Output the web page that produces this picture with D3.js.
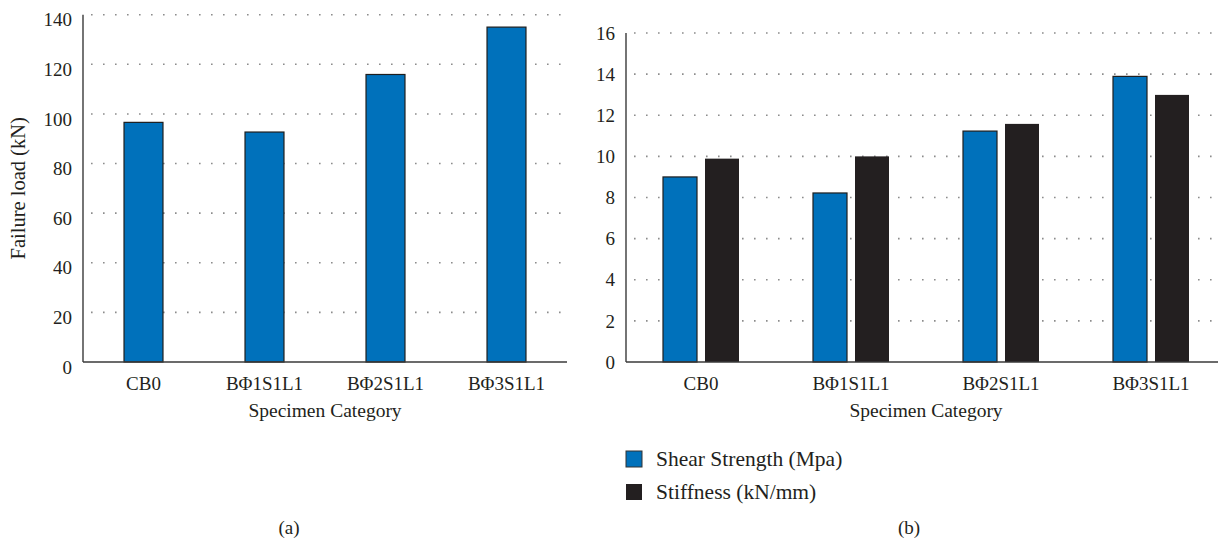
<!DOCTYPE html>
<html>
<head>
<meta charset="utf-8">
<script src="https://cdn.jsdelivr.net/npm/d3@7/dist/d3.min.js"></script>
<style>
  html, body { margin: 0; padding: 0; background: #fff; }
  svg text { font-family: 'Liberation Serif', 'Times New Roman', Times, 'DejaVu Serif', serif; fill: #231f20; }
</style>
</head>
<body>
<svg id="chart" width="1218" height="543"></svg>
<script>
// Specimen categories shared by both panels
const categories = ["CB0", "BΦ1S1L1", "BΦ2S1L1", "BΦ3S1L1"];
// Panel (a): failure load, kN
const failureLoad = [96.6, 92.7, 115.9, 135.0];
// Panel (b): shear strength (MPa) and stiffness (kN/mm)
const shearStrength = [9.0, 8.22, 11.23, 13.89];
const stiffness = [9.89, 10.0, 11.58, 12.99];
// Tick values
const loadTicks = [0, 20, 40, 60, 80, 100, 120, 140];
const bTicks = [0, 2, 4, 6, 8, 10, 12, 14, 16];

const seriesNames = ["Shear Strength (Mpa)", "Stiffness (kN/mm)"];
const seriesColors = ["#0071bb", "#231f20"];

const FONT = "'Liberation Serif', 'Times New Roman', Times, 'DejaVu Serif', serif";
const svg = d3.select("#chart");
const axisColor = "#3a3a3a";
const gridColor = "#8c8c8c";

function drawGrid(g, y, ticks, x0, x1) {
  g.selectAll("line.grid").data(ticks.filter(t => t !== 0)).join("line")
    .attr("class", "grid")
    .attr("x1", x0 + 8).attr("x2", x1)
    .attr("y1", d => y(d)).attr("y2", d => y(d))
    .attr("stroke", gridColor).attr("stroke-width", 1.6)
    .attr("stroke-dasharray", "1.6 10.4");
}

function drawAxes(g, x, y, ticks, tickDy) {
  const [x0, x1] = x.range();
  const [yb, yt] = y.range();
  g.append("line").attr("x1", x0).attr("x2", x0).attr("y1", yb).attr("y2", yt)
    .attr("stroke", axisColor).attr("stroke-width", 1.4);
  g.append("line").attr("x1", x0).attr("x2", Math.min(x1, 1218)).attr("y1", yb).attr("y2", yb)
    .attr("stroke", axisColor).attr("stroke-width", 1.6);
  g.selectAll("text.ytick").data(ticks).join("text")
    .attr("class", "ytick")
    .attr("x", x0 - 11).attr("y", d => y(d) + tickDy)
    .attr("dy", "0.35em")
    .attr("text-anchor", "end")
    .attr("font-family", FONT)
    .style("font-size", "19px")
    .text(d => d);
  g.selectAll("text.xtick").data(categories).join("text")
    .attr("class", "xtick")
    .attr("x", d => x(d) + x.bandwidth() / 2).attr("y", 390)
    .attr("text-anchor", "middle")
    .attr("font-family", FONT)
    .style("font-size", "19px")
    .text(d => d);
  g.append("text")
    .attr("x", (x0 + x1) / 2).attr("y", 417)
    .attr("text-anchor", "middle")
    .attr("font-family", FONT)
    .style("font-size", "19.5px")
    .text("Specimen Category");
}

// ---------- Panel (a) ----------
const ga = svg.append("g");
const xa = d3.scaleBand().domain(categories).range([83, 567]).padding(0);
const ya = d3.scaleLinear().domain([0, 140]).range([362, 14.7]);

drawGrid(ga, ya, loadTicks, 83, 567);

const barWA = xa.bandwidth() * 0.322;
ga.selectAll("rect.bar").data(categories).join("rect")
  .attr("class", "bar")
  .attr("x", d => xa(d) + xa.bandwidth() / 2 - barWA / 2)
  .attr("width", barWA)
  .attr("y", (d, i) => ya(failureLoad[i]))
  .attr("height", (d, i) => ya(0) - ya(failureLoad[i]))
  .attr("fill", seriesColors[0])
  .attr("stroke", "#1e1e1e").attr("stroke-width", 1.2);

drawAxes(ga, xa, ya, loadTicks, 5);

ga.append("text")
  .attr("transform", `translate(25, ${(ya(0) + ya(140)) / 2}) rotate(-90)`)
  .attr("text-anchor", "middle")
  .attr("font-family", FONT)
  .style("font-size", "20.5px")
  .text("Failure load (kN)");

ga.append("text")
  .attr("x", 289).attr("y", 534)
  .attr("text-anchor", "middle")
  .attr("font-family", FONT)
  .style("font-size", "19px")
  .text("(a)");

// ---------- Panel (b) ----------
const gb = svg.append("g");
const xb = d3.scaleBand().domain(categories).range([626, 1226]).padding(0);
const xs = d3.scaleBand().domain([0, 1])
  .range([xb.bandwidth() / 2 - 38, xb.bandwidth() / 2 + 38])
  .paddingInner(0.1905).paddingOuter(0);
const yb = d3.scaleLinear().domain([0, 16]).range([362, 33]);

drawGrid(gb, yb, bTicks, 626, 1218);

const bSeries = [shearStrength, stiffness];
const groups = gb.selectAll("g.grp").data(categories).join("g")
  .attr("class", "grp")
  .attr("transform", d => `translate(${xb(d)},0)`);

groups.selectAll("rect").data((d, i) => bSeries.map((s, k) => ({ k, v: s[i] }))).join("rect")
  .attr("x", d => xs(d.k))
  .attr("width", xs.bandwidth())
  .attr("y", d => yb(d.v))
  .attr("height", d => yb(0) - yb(d.v))
  .attr("fill", d => seriesColors[d.k])
  .attr("stroke", d => d.k === 0 ? "#1e1e1e" : "none")
  .attr("stroke-width", 1.2);

drawAxes(gb, xb, yb, bTicks, 0);

// legend
const legend = gb.selectAll("g.leg").data(seriesNames).join("g")
  .attr("class", "leg")
  .attr("transform", (d, i) => `translate(626, ${451 + i * 33})`);
legend.append("rect")
  .attr("width", 16).attr("height", 16)
  .attr("fill", (d, i) => seriesColors[i])
  .attr("stroke", (d, i) => i === 0 ? "#333" : "none")
  .attr("stroke-width", 1);
legend.append("text")
  .attr("x", 30).attr("y", 15)
  .attr("font-family", FONT)
  .style("font-size", "21.5px")
  .text(d => d);

gb.append("text")
  .attr("x", 909).attr("y", 534)
  .attr("text-anchor", "middle")
  .attr("font-family", FONT)
  .style("font-size", "19px")
  .text("(b)");
</script>
</body>
</html>
